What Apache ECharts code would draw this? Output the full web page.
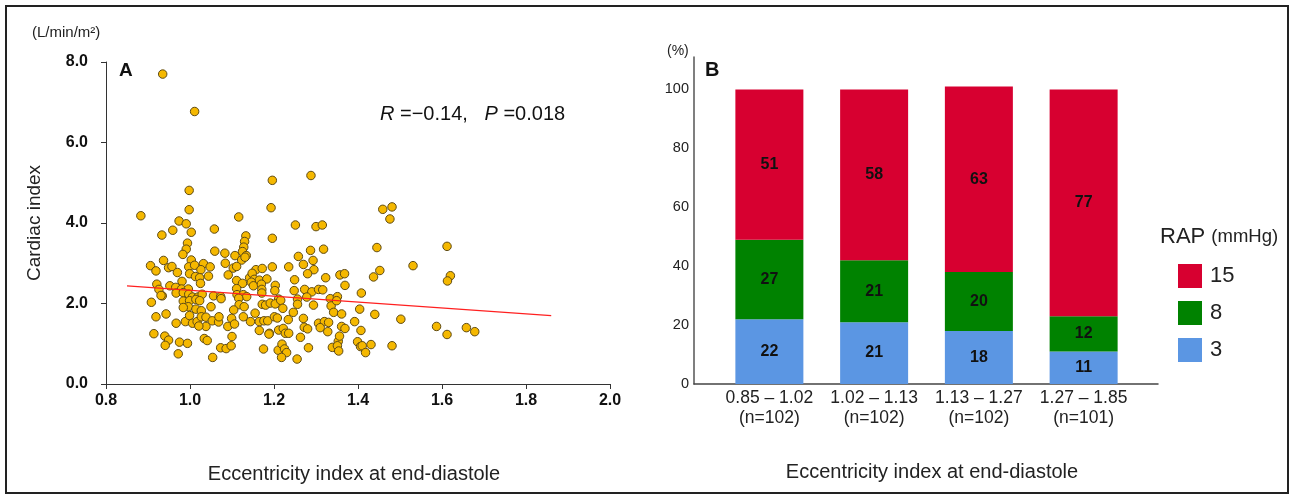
<!DOCTYPE html>
<html>
<head>
<meta charset="utf-8">
<script src="https://cdn.jsdelivr.net/npm/echarts@6/dist/echarts.min.js"></script>
<style>
html,body{margin:0;padding:0;background:#fff;}
#main{width:1293px;height:497px;}
</style>
</head>
<body>
<div id="main"></div>
<script>
// panel A: eccentricity index vs cardiac index
var scatterPoints = [
[0.935,7.70],[1.011,6.77],[1.196,5.06],[1.288,5.18],[0.998,4.81],[0.998,4.33],[0.883,4.18],[0.974,4.05],[0.991,3.98],[1.116,4.15],[1.193,4.38],[1.251,3.95],[1.300,3.91],[1.315,3.95],
[1.003,3.77],[0.933,3.70],[0.959,3.82],[1.058,3.85],[1.133,3.68],[1.196,3.62],
[0.994,3.50],[0.991,3.35],[0.983,3.22],[1.130,3.54],[1.128,3.40],[1.125,3.29],[1.059,3.30],[1.083,3.25],[1.107,3.19],[1.134,3.19],[1.287,3.32],[1.318,3.35],[1.258,3.17],
[0.937,3.07],[1.003,3.08],[1.032,2.99],[1.084,3.00],[1.123,3.08],[1.131,3.15],[1.293,3.07],[0.906,2.94],[0.919,2.81],[0.949,2.89],[0.957,2.92],[0.970,2.77],[0.997,2.91],[1.011,2.95],[1.026,2.84],[1.048,2.91],[1.103,2.88],[1.111,2.92],[1.157,2.84],[1.172,2.87],[1.196,2.91],[1.235,2.91],[1.270,2.97],[1.295,2.84],
[0.999,2.74],[1.013,2.67],[1.023,2.64],[1.044,2.68],[1.091,2.71],[1.142,2.64],[1.148,2.75],[1.153,2.60],[1.165,2.58],[1.183,2.61],[1.249,2.59],[1.280,2.74],[1.323,2.64],[1.357,2.71],[1.368,2.74],[0.981,2.55],[1.025,2.50],[1.111,2.57],[1.125,2.50],[1.146,2.53],
[0.921,2.48],[0.926,2.35],[0.934,2.19],[0.952,2.44],[0.966,2.40],[0.980,2.36],[0.996,2.36],[0.967,2.26],[0.984,2.27],[0.997,2.23],[1.006,2.16],[1.019,2.16],[1.029,2.23],[1.056,2.19],[1.073,2.17],[1.111,2.37],[1.112,2.22],[1.127,2.22],[1.135,2.17],[1.151,2.44],[1.170,2.48],[1.171,2.35],[1.171,2.26],[1.203,2.45],[1.202,2.32],[1.211,2.11],[1.248,2.32],[1.273,2.35],[1.290,2.29],[1.306,2.35],[1.316,2.34],[1.278,2.16],[1.334,2.12],[1.351,2.17],[1.369,2.45],
[0.908,2.03],[0.931,2.20],[0.984,2.06],[0.999,2.07],[1.014,2.10],[1.023,2.07],[0.996,1.92],[1.014,1.86],[1.027,1.82],[0.984,1.90],[1.050,1.92],[1.074,2.12],[1.116,2.13],[1.117,1.97],[1.129,1.92],[1.172,1.98],[1.180,1.96],[1.191,2.01],[1.203,1.99],[1.216,2.08],[1.221,1.88],[1.256,2.11],[1.256,1.98],[1.294,1.96],[1.336,1.94],[1.349,2.07],[1.342,1.78],[1.361,1.74],[1.246,1.78],[1.155,1.76],[1.104,1.84],
[0.919,1.67],[0.943,1.74],[0.967,1.51],[0.989,1.55],[0.999,1.70],[1.006,1.51],[1.017,1.55],[1.027,1.67],[1.038,1.66],[1.053,1.57],[1.068,1.54],[1.069,1.67],[1.038,1.43],[1.021,1.44],[1.090,1.43],[1.099,1.63],[1.106,1.49],[1.127,1.67],[1.144,1.55],[1.165,1.55],[1.176,1.57],[1.185,1.57],[1.201,1.67],[1.208,1.64],[1.234,1.60],[1.270,1.63],[1.306,1.51],[1.320,1.55],[1.330,1.53],[1.361,1.43],[1.272,1.41],[1.165,1.33],[1.189,1.26],[1.211,1.34],[1.222,1.38],[1.227,1.26],[1.235,1.26],[1.280,1.37],[1.310,1.40],[1.328,1.30],
[0.914,1.25],[0.940,1.19],[0.949,1.09],[0.941,0.96],[0.975,1.04],[0.994,1.01],[0.972,0.75],[1.034,1.13],[1.041,1.08],[1.054,0.66],[1.073,0.90],[1.086,0.88],[1.098,0.95],[1.100,1.18],[1.175,0.87],[1.188,1.24],[1.210,0.84],[1.219,0.99],[1.225,0.87],[1.230,0.78],[1.218,0.66],[1.255,0.62],[1.263,1.16],[1.282,0.90],[1.339,0.91],[1.353,1.06],[1.356,1.19],[1.351,0.95],[1.354,0.82],
[1.459,4.34],[1.481,4.40],[1.476,4.10],[1.445,3.39],[1.612,3.42],[1.531,2.94],[1.452,2.82],[1.437,2.66],[1.620,2.69],[1.613,2.56],[1.408,2.26],[1.404,1.86],[1.440,1.73],[1.502,1.61],[1.392,1.55],[1.369,1.38],[1.407,1.33],[1.587,1.43],[1.612,1.23],[1.658,1.40],[1.678,1.30],[1.399,1.05],[1.406,0.93],[1.410,0.95],[1.418,0.78],[1.431,0.98],[1.481,0.95]
];
// regression line end points
var regX = [0.85, 1.86];
var regY = [2.44, 1.70];

// panel B: RAP distribution by eccentricity index quartile
var quartiles = ['0.85 – 1.02\n(n=102)', '1.02 – 1.13\n(n=102)', '1.13 – 1.27\n(n=102)', '1.27 – 1.85\n(n=101)'];
var rap3 = [22, 21, 18, 11];
var rap8 = [27, 21, 20, 12];
var rap15 = [51, 58, 63, 77];

var FONT = 'Liberation Sans, Arial, sans-serif';

var chart = echarts.init(document.getElementById('main'));
var barLabel = {show:true, position:'inside', fontFamily:FONT, fontWeight:'bold', fontSize:16, color:'#111'};

function titleText(text, left, top, size, extra){
    var t = {text:text, left:left, top:top, padding:0,
        textStyle:{fontSize:size, fontWeight:'normal', color:'#222', fontFamily:FONT}};
    for(var k in extra){ t[k] = extra[k]; }
    return t;
}

var option = {
    animation:false,
    textStyle:{fontFamily:FONT},
    graphic:[{
        type:'rect', shape:{x:6,y:6,width:1282,height:487},
        style:{fill:'none', stroke:'#222', lineWidth:2}, silent:true
    }],
    title:[
        titleText('(L/min/m²)', 32, 25, 15),
        {text:'A', left:119, top:61, padding:0, textStyle:{fontSize:19, fontWeight:'bold', color:'#111', fontFamily:FONT}},
        {text:'{i|R} =−0.14,   {i|P} =0.018', left:380, top:104, padding:0,
         textStyle:{fontSize:20, fontWeight:'normal', color:'#111', fontFamily:FONT,
            rich:{i:{fontStyle:'italic', fontSize:20, color:'#111', fontFamily:FONT}}}},
        titleText('Eccentricity index at end-diastole', 354, 464, 20, {textAlign:'center'}),
        titleText('(%)', 667, 44, 14),
        {text:'B', left:705, top:60, padding:0, textStyle:{fontSize:20, fontWeight:'bold', color:'#111', fontFamily:FONT}},
        titleText('Eccentricity index at end-diastole', 932, 462, 20, {textAlign:'center'}),
        {text:'RAP {s|(mmHg)}', left:1160, top:226, padding:0,
         textStyle:{fontSize:22, fontWeight:'normal', color:'#222', fontFamily:FONT,
            rich:{s:{fontSize:18.5, color:'#222', fontFamily:FONT}}}}
    ],
    legend:{
        data:['15','8','3'], orient:'vertical', left:1173, top:259,
        icon:'rect', itemWidth:24, itemHeight:24, itemGap:13,
        textStyle:{fontSize:22, color:'#222', fontFamily:FONT, width:28, align:'center', padding:[0,0,0,3]}
    },
    grid:[
        {left:106, top:62, width:504, height:322},
        // frame of panel B (axis lines)
        {left:694, top:57, width:464, height:327},
        // bars of panel B
        {left:717, top:57, width:419, height:327}
    ],
    xAxis:[
        {type:'value', gridIndex:0, min:0.8, max:2.0, interval:0.2,
         axisLine:{lineStyle:{color:'#333', width:1}},
         axisTick:{show:true, length:5, lineStyle:{color:'#333'}},
         axisLabel:{fontSize:16, fontWeight:'bold', color:'#111', margin:9,
            formatter:function(v){return v.toFixed(1);}},
         splitLine:{show:false}},
        {type:'value', gridIndex:1, min:0, max:1,
         axisLine:{onZero:false, lineStyle:{color:'#444', width:1.5}},
         axisTick:{show:false}, axisLabel:{show:false}, splitLine:{show:false}},
        {type:'category', gridIndex:2, data:quartiles,
         axisLine:{show:false}, axisTick:{show:false},
         axisLabel:{interval:0, hideOverlap:false, fontSize:17.5, color:'#222', margin:4, lineHeight:20}}
    ],
    yAxis:[
        {type:'value', gridIndex:0, min:0, max:8, interval:2,
         name:'Cardiac index', nameLocation:'middle', nameGap:62,
         nameTextStyle:{fontSize:19, color:'#222', fontFamily:FONT},
         axisLine:{show:true, lineStyle:{color:'#333', width:1}},
         axisTick:{show:true, length:5, lineStyle:{color:'#333'}},
         axisLabel:{fontSize:16, fontWeight:'bold', color:'#111', margin:18,
            formatter:function(v){return v.toFixed(1);}},
         splitLine:{show:false}},
        {type:'value', gridIndex:1, min:0, max:111, interval:20,
         axisLine:{show:true, onZero:false, lineStyle:{color:'#555', width:1.5}},
         axisTick:{show:false},
         axisLabel:{fontSize:14.5, color:'#222', margin:5,
            formatter:function(v){return (v % 20 === 0 && v <= 100) ? String(v) : '';}},
         splitLine:{show:false}},
        {type:'value', gridIndex:2, min:0, max:111, show:false, splitLine:{show:false}}
    ],
    series:[
        {type:'scatter', xAxisIndex:0, yAxisIndex:0, data:scatterPoints, symbolSize:8.5,
         itemStyle:{color:'#F5B800', borderColor:'#5e4a14', borderWidth:1, opacity:1}},
        {type:'line', xAxisIndex:0, yAxisIndex:0, data:[[regX[0],regY[0]],[regX[1],regY[1]]],
         showSymbol:false, lineStyle:{color:'#FF2020', width:1.2}, z:5},
        {name:'3', type:'bar', xAxisIndex:2, yAxisIndex:2, stack:'rap', barWidth:68,
         data:rap3, itemStyle:{color:'#5B96E3'}, label:barLabel},
        {name:'8', type:'bar', xAxisIndex:2, yAxisIndex:2, stack:'rap', barWidth:68,
         data:rap8, itemStyle:{color:'#008200'}, label:barLabel},
        {name:'15', type:'bar', xAxisIndex:2, yAxisIndex:2, stack:'rap', barWidth:68,
         data:rap15, itemStyle:{color:'#D70030'}, label:barLabel}
    ]
};
chart.setOption(option);
</script>
</body>
</html>
